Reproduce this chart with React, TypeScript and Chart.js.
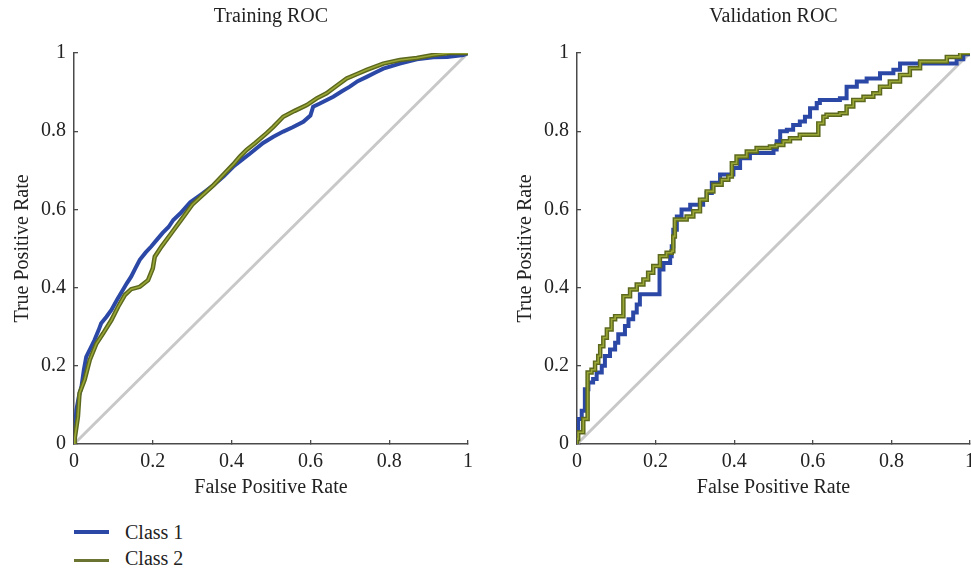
import React, { useEffect, useRef } from "react";
import { Chart, registerables } from "chart.js";

Chart.register(...registerables);

// ---- tick values / labels ----
const AXIS_TICKS = [0, 0.2, 0.4, 0.6, 0.8, 1];
const TITLES = ["Training ROC", "Validation ROC"];
const X_TITLE = "False Positive Rate";
const Y_TITLE = "True Positive Rate";
const SERIES = ["Class 1", "Class 2"];

// ---- chance line ----
const CHANCE_X = [0, 1];
const CHANCE_Y = [0, 1];

// ---- Training ROC, Class 1 ----
const TRAIN_C1_X = [0, 0.002, 0.006, 0.012, 0.019, 0.025, 0.031, 0.042, 0.052, 0.062, 0.069, 0.082, 0.095, 0.11, 0.124, 0.134, 0.145, 0.156, 0.167, 0.182, 0.196, 0.21, 0.225, 0.24, 0.252, 0.27, 0.295, 0.325, 0.354, 0.38, 0.404, 0.43, 0.447, 0.48, 0.506, 0.531, 0.555, 0.582, 0.6, 0.607, 0.624, 0.658, 0.68, 0.7, 0.72, 0.743, 0.765, 0.785, 0.827, 0.87, 0.912, 0.947, 0.988, 1];
const TRAIN_C1_Y = [0, 0.03, 0.087, 0.12, 0.147, 0.19, 0.223, 0.245, 0.266, 0.29, 0.309, 0.325, 0.343, 0.37, 0.394, 0.411, 0.428, 0.45, 0.471, 0.49, 0.505, 0.522, 0.54, 0.555, 0.573, 0.59, 0.618, 0.64, 0.662, 0.685, 0.709, 0.73, 0.743, 0.77, 0.786, 0.799, 0.81, 0.824, 0.84, 0.863, 0.871, 0.888, 0.902, 0.914, 0.928, 0.939, 0.95, 0.96, 0.973, 0.984, 0.989, 0.99, 0.995, 1];

// ---- Training ROC, Class 2 ----
const TRAIN_C2_X = [0, 0.002, 0.01, 0.014, 0.027, 0.04, 0.057, 0.074, 0.095, 0.112, 0.129, 0.145, 0.167, 0.188, 0.2, 0.205, 0.222, 0.247, 0.272, 0.3, 0.354, 0.38, 0.404, 0.421, 0.438, 0.46, 0.489, 0.506, 0.531, 0.56, 0.591, 0.616, 0.641, 0.665, 0.692, 0.72, 0.743, 0.785, 0.827, 0.87, 0.912, 0.954, 1];
const TRAIN_C2_Y = [0, 0.015, 0.07, 0.13, 0.164, 0.215, 0.257, 0.283, 0.317, 0.351, 0.381, 0.396, 0.402, 0.419, 0.449, 0.479, 0.505, 0.539, 0.573, 0.612, 0.662, 0.69, 0.715, 0.735, 0.752, 0.77, 0.795, 0.811, 0.837, 0.852, 0.867, 0.884, 0.897, 0.915, 0.935, 0.947, 0.957, 0.973, 0.982, 0.987, 0.995, 1, 1];

// ---- Validation ROC, Class 1 ----
const VAL_C1_X = [0, 0, 0.003, 0.012, 0.02, 0.029, 0.041, 0.05, 0.063, 0.071, 0.084, 0.097, 0.105, 0.122, 0.131, 0.143, 0.152, 0.16, 0.21, 0.22, 0.237, 0.241, 0.245, 0.254, 0.266, 0.288, 0.321, 0.33, 0.343, 0.364, 0.398, 0.415, 0.44, 0.5, 0.508, 0.517, 0.534, 0.55, 0.567, 0.58, 0.593, 0.61, 0.618, 0.669, 0.686, 0.712, 0.737, 0.771, 0.805, 0.822, 0.966, 0.983, 1];
const VAL_C1_Y = [0, 0.03, 0.064, 0.085, 0.14, 0.157, 0.166, 0.183, 0.2, 0.225, 0.242, 0.259, 0.281, 0.302, 0.319, 0.336, 0.357, 0.383, 0.446, 0.463, 0.48, 0.506, 0.548, 0.582, 0.6, 0.612, 0.625, 0.642, 0.668, 0.689, 0.706, 0.731, 0.744, 0.753, 0.774, 0.8, 0.804, 0.816, 0.825, 0.837, 0.859, 0.872, 0.88, 0.884, 0.914, 0.927, 0.935, 0.948, 0.957, 0.973, 0.984, 0.997, 1];

// ---- Validation ROC, Class 2 ----
const VAL_C2_X = [0, 0, 0.003, 0.016, 0.027, 0.037, 0.046, 0.054, 0.059, 0.067, 0.076, 0.088, 0.097, 0.118, 0.135, 0.152, 0.169, 0.181, 0.194, 0.211, 0.228, 0.241, 0.245, 0.249, 0.279, 0.296, 0.313, 0.33, 0.347, 0.368, 0.385, 0.394, 0.406, 0.432, 0.457, 0.491, 0.508, 0.525, 0.542, 0.567, 0.614, 0.627, 0.635, 0.669, 0.686, 0.703, 0.729, 0.754, 0.771, 0.796, 0.822, 0.847, 0.873, 0.941, 0.975, 1];
const VAL_C2_Y = [0, 0.013, 0.03, 0.064, 0.183, 0.19, 0.208, 0.225, 0.25, 0.272, 0.293, 0.319, 0.327, 0.378, 0.395, 0.408, 0.421, 0.438, 0.455, 0.48, 0.489, 0.493, 0.531, 0.574, 0.582, 0.595, 0.625, 0.646, 0.663, 0.676, 0.684, 0.718, 0.735, 0.748, 0.757, 0.761, 0.765, 0.774, 0.782, 0.791, 0.82, 0.837, 0.842, 0.846, 0.863, 0.88, 0.888, 0.897, 0.914, 0.927, 0.944, 0.961, 0.978, 0.99, 1, 1];

const BLUE = "#2c48a6";
const OLIVE_DARK = "#5b681d";
const OLIVE_LIGHT = "#9aa736";
const OLIVE_LEGEND = "#6b7431";
const GREY = "#c8c8c8";
const AXIS_COLOR = "#4a4a4a";
const TEXT_COLOR = "#222222";
const FONT_FAMILY = '"Liberation Serif", "Times New Roman", serif';

function pts(xs: number[], ys: number[]) {
  return xs.map((x, i) => ({ x, y: ys[i] }));
}

function scaleOptions(isY: boolean) {
  return {
    type: "linear" as const,
    min: 0,
    max: 1,
    afterBuildTicks: (s: any) => {
      s.ticks = AXIS_TICKS.map((v) => ({ value: v }));
    },
    afterFit: (s: any) => {
      if (isY) s.width = 74;
      else s.height = 66;
    },
    ticks: {
      autoSkip: false,
      maxRotation: 0,
      padding: isY ? 12 : 10,
      color: TEXT_COLOR,
      font: { family: FONT_FAMILY, size: 20 },
      callback: (v: any) => String(+Number(v).toFixed(1)),
    },
    grid: {
      display: true,
      drawOnChartArea: false,
      drawTicks: true,
      tickLength: -4,
      color: AXIS_COLOR,
      lineWidth: 1.3,
    },
    border: { display: true, color: AXIS_COLOR, width: 1.5 },
    title: {
      display: true,
      text: isY ? Y_TITLE : X_TITLE,
      color: TEXT_COLOR,
      font: { family: FONT_FAMILY, size: 20 },
      padding: isY ? { top: 11, bottom: 0 } : { top: 0, bottom: 10 },
    },
  };
}

function makeConfig(title: string, c1: any[], c2: any[], stepped: any, padRight: number) {
  const common = { pointRadius: 0, pointHoverRadius: 0, tension: 0, fill: false, stepped };
  return {
    type: "line" as const,
    data: {
      datasets: [
        { label: SERIES[1], data: c2, borderColor: OLIVE_LIGHT, borderWidth: 1.6, order: 0, ...common },
        { label: SERIES[1] + " edge", data: c2, borderColor: OLIVE_DARK, borderWidth: 4.5, order: 1, ...common },
        { label: SERIES[0], data: c1, borderColor: BLUE, borderWidth: 4, order: 2, ...common },
        { label: "Chance", data: pts(CHANCE_X, CHANCE_Y), borderColor: GREY, borderWidth: 3, order: 3, pointRadius: 0, stepped: false },
      ],
    },
    options: {
      animation: false as const,
      responsive: false,
      devicePixelRatio: 1,
      events: [],
      parsing: false as const,
      layout: { padding: { left: 0, right: padRight, top: 0, bottom: 0 } },
      plugins: {
        legend: { display: false },
        tooltip: { enabled: false },
        title: {
          display: true,
          text: title,
          fullSize: false,
          color: TEXT_COLOR,
          font: { family: FONT_FAMILY, size: 20, weight: "normal" as const },
          padding: { top: 5, bottom: 24 },
        },
      },
      scales: {
        x: scaleOptions(false),
        y: scaleOptions(true),
      },
    },
  };
}

function RocChart(props: { left: number; width: number; padRight: number; title: string; c1: any[]; c2: any[]; stepped: any }) {
  const ref = useRef<HTMLCanvasElement | null>(null);
  useEffect(() => {
    if (!ref.current) return;
    const chart = new Chart(ref.current, makeConfig(props.title, props.c1, props.c2, props.stepped, props.padRight) as any);
    return () => chart.destroy();
  }, []);
  return (
    <canvas
      ref={ref}
      width={props.width}
      height={510}
      style={{ position: "absolute", left: props.left, top: 0, width: props.width, height: 510 }}
    />
  );
}

export default function App() {
  const legendText: React.CSSProperties = {
    position: "absolute",
    left: 125,
    fontFamily: FONT_FAMILY,
    fontSize: 20,
    lineHeight: "20px",
    color: TEXT_COLOR,
    whiteSpace: "nowrap",
  };
  return (
    <div style={{ position: "fixed", left: 0, top: 0, width: 971, height: 571, overflow: "hidden", background: "#fff" }}>
      <RocChart left={0} width={490} padRight={22} title={TITLES[0]} c1={pts(TRAIN_C1_X, TRAIN_C1_Y)} c2={pts(TRAIN_C2_X, TRAIN_C2_Y)} stepped={false} />
      <RocChart left={503} width={490} padRight={23} title={TITLES[1]} c1={pts(VAL_C1_X, VAL_C1_Y)} c2={pts(VAL_C2_X, VAL_C2_Y)} stepped={"before"} />
      <div style={{ position: "absolute", left: 74, top: 530, width: 35, height: 3.5, background: BLUE }} />
      <div style={{ ...legendText, top: 522 }}>{SERIES[0]}</div>
      <div style={{ position: "absolute", left: 74, top: 558.5, width: 35, height: 3.5, background: OLIVE_LEGEND }} />
      <div style={{ ...legendText, top: 548 }}>{SERIES[1]}</div>
    </div>
  );
}
